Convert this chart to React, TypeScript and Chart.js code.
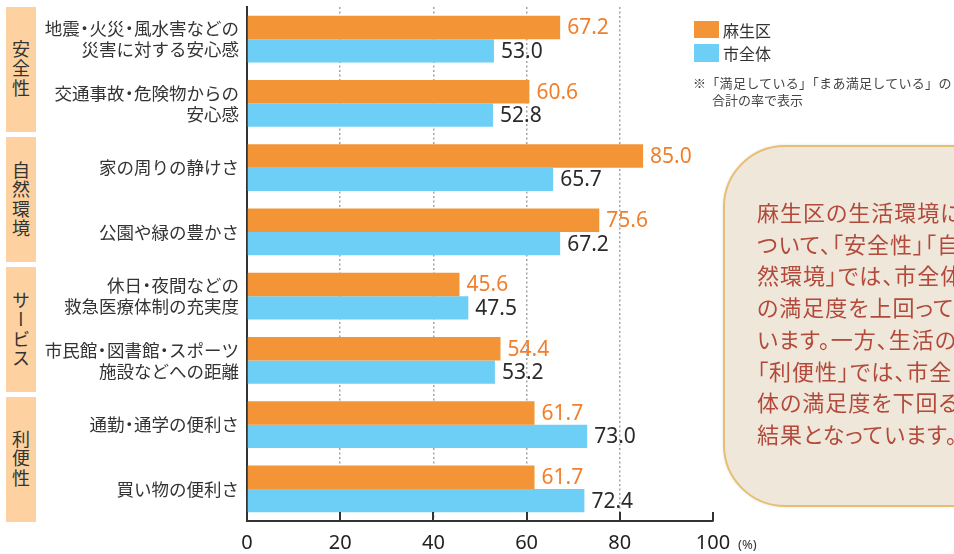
import React, { useEffect, useRef } from "react";
import { Chart, registerables } from "chart.js";

Chart.register(...registerables);

// ---- data ----
const categories: string[][] = [
  ["地震・火災・風水害などの", "災害に対する安心感"],
  ["交通事故・危険物からの", "安心感"],
  ["家の周りの静けさ"],
  ["公園や緑の豊かさ"],
  ["休日・夜間などの", "救急医療体制の充実度"],
  ["市民館・図書館・スポーツ", "施設などへの距離"],
  ["通勤・通学の便利さ"],
  ["買い物の便利さ"],
];
const asaoValues = [67.2, 60.6, 85.0, 75.6, 45.6, 54.4, 61.7, 61.7];
const cityValues = [53.0, 52.8, 65.7, 67.2, 47.5, 53.2, 73.0, 72.4];
const seriesNames = ["麻生区", "市全体"];
const xTicks = [0, 20, 40, 60, 80, 100];
const groupNames = ["安全性", "自然環境", "サービス", "利便性"];
const noteLines = ["※「満足している」「まあ満足している」の", "合計の率で表示"];
const commentLines = [
  "麻生区の生活環境に",
  "ついて、「安全性」「自",
  "然環境」では、市全体",
  "の満足度を上回って",
  "います。一方、生活の",
  "「利便性」では、市全",
  "体の満足度を下回る",
  "結果となっています。",
];

const ORANGE = "#F39536";
const BLUE = "#6DCFF6";
const ORANGE_TEXT = "#F07F2B";
const LABEL_SIZE = 17.5;
const LABEL_LINE = 21;

const valueLabels = {
  id: "valueLabels",
  afterDatasetsDraw(chart: any) {
    const ctx = chart.ctx;
    chart.data.datasets.forEach((ds: any, i: number) => {
      const meta = chart.getDatasetMeta(i);
      meta.data.forEach((bar: any, j: number) => {
        const v = ds.data[j] as number;
        ctx.save();
        ctx.font = '21px "Noto Sans", sans-serif';
        ctx.fillStyle = i === 0 ? ORANGE_TEXT : "#2a2a2a";
        ctx.textBaseline = "middle";
        ctx.textAlign = "left";
        ctx.fillText(v.toFixed(1), bar.x + 7, bar.y + 1);
        ctx.restore();
      });
    });
  },
};

// category labels with a narrow middle dot (as in the print original)
const categoryLabels = {
  id: "categoryLabels",
  afterDraw(chart: any) {
    const ctx = chart.ctx;
    const ys = chart.scales.y;
    const rightX = chart.chartArea.left - 8;
    ctx.save();
    ctx.font = `${LABEL_SIZE}px "Noto Sans CJK JP", sans-serif`;
    ctx.fillStyle = "#333";
    ctx.textBaseline = "middle";
    categories.forEach((lines, i) => {
      const cy = ys.getPixelForValue(i);
      const n = lines.length;
      lines.forEach((line, k) => {
        const y = cy + (k - (n - 1) / 2) * LABEL_LINE;
        const chars = Array.from(line);
        const adv = chars.map((c) =>
          c === "・" ? LABEL_SIZE * 0.55 : ctx.measureText(c).width
        );
        let x = rightX;
        for (let m = chars.length - 1; m >= 0; m--) {
          x -= adv[m];
          if (chars[m] === "・") {
            ctx.textAlign = "center";
            ctx.fillText("・", x + adv[m] / 2, y);
          } else {
            ctx.textAlign = "left";
            ctx.fillText(chars[m], x, y);
          }
        }
      });
    });
    ctx.restore();
  },
};

const innerTicks = {
  id: "innerTicks",
  afterDraw(chart: any) {
    const ctx = chart.ctx;
    const xs = chart.scales.x;
    const bottom = chart.chartArea.bottom;
    ctx.save();
    ctx.strokeStyle = "#333";
    ctx.lineWidth = 2;
    ctx.beginPath();
    xTicks.forEach((t) => {
      if (t === 0) return;
      const px = Math.round(xs.getPixelForValue(t));
      ctx.moveTo(px, bottom);
      ctx.lineTo(px, bottom - 9);
    });
    ctx.stroke();
    ctx.restore();
  },
};

export default function App() {
  const ref = useRef<HTMLCanvasElement>(null);

  useEffect(() => {
    const chart = new Chart(ref.current as HTMLCanvasElement, {
      type: "bar",
      data: {
        labels: categories.map((c) => c.join("")),
        datasets: [
          {
            label: seriesNames[0],
            data: asaoValues,
            backgroundColor: ORANGE,
            borderWidth: 0,
            barPercentage: 1,
            categoryPercentage: 0.73,
          },
          {
            label: seriesNames[1],
            data: cityValues,
            backgroundColor: BLUE,
            borderWidth: 0,
            barPercentage: 1,
            categoryPercentage: 0.73,
          },
        ],
      },
      options: {
        indexAxis: "y",
        responsive: false,
        animation: false,
        layout: { padding: { top: 7, right: 241, bottom: 0, left: 0 } },
        plugins: {
          legend: { display: false },
          tooltip: { enabled: false },
        },
        scales: {
          x: {
            type: "linear",
            min: 0,
            max: 100,
            afterFit: (s: any) => {
              s.height = 33;
            },
            afterBuildTicks: (s: any) => {
              s.ticks = xTicks.map((v) => ({ value: v }));
            },
            ticks: {
              color: "#222",
              padding: 10,
              font: { family: '"Noto Sans", sans-serif', size: 20 },
              maxRotation: 0,
            },
            grid: {
              drawTicks: false,
              lineWidth: 1.5,
              color: (c: any) =>
                c.tick && (c.tick.value === 0 || c.tick.value === 100)
                  ? "rgba(0,0,0,0)"
                  : "#a3a3a3",
            },
            border: { display: true, color: "#333", width: 2, dash: [2, 2.5] },
          },
          y: {
            type: "category",
            afterFit: (s: any) => {
              s.width = 247;
            },
            ticks: { display: false },
            grid: { display: false, drawTicks: false },
            border: { display: true, color: "#333", width: 2 },
          },
        },
      } as any,
      plugins: [valueLabels, categoryLabels, innerTicks],
    });
    return () => chart.destroy();
  }, []);

  const groupTops = [7, 137, 267, 397];

  return (
    <div
      style={{
        position: "absolute",
        left: 0,
        top: 0,
        width: 954,
        height: 554,
        overflow: "hidden",
        background: "#fff",
        fontFamily: '"Noto Sans CJK JP", sans-serif',
        color: "#333",
      }}
    >
      {groupNames.map((g, i) => (
        <div
          key={g}
          style={{
            position: "absolute",
            left: 6,
            top: groupTops[i],
            width: 30,
            height: 125,
            background: "#FDD2A0",
            display: "flex",
            alignItems: "center",
            justifyContent: "center",
          }}
        >
          <div
            style={{
              writingMode: "vertical-rl",
              fontSize: 18,
              lineHeight: "18px",
              letterSpacing: 1.5,
              color: "#333",
            }}
          >
            {g}
          </div>
        </div>
      ))}
      <canvas
        ref={ref}
        width={954}
        height={554}
        style={{ position: "absolute", left: 0, top: 0 }}
      />
      <div
        style={{
          position: "absolute",
          left: 738,
          top: 536,
          fontSize: 13,
          lineHeight: "16px",
          color: "#333",
          fontFamily: '"Noto Sans", sans-serif',
        }}
      >
        (%)
      </div>
      {/* legend */}
      <div style={{ position: "absolute", left: 694, top: 21, width: 25, height: 17, background: ORANGE }} />
      <div style={{ position: "absolute", left: 723, top: 19, fontSize: 16, lineHeight: "22px", whiteSpace: "nowrap" }}>
        {seriesNames[0]}
      </div>
      <div style={{ position: "absolute", left: 694, top: 44, width: 25, height: 18, background: BLUE }} />
      <div style={{ position: "absolute", left: 723, top: 42, fontSize: 16, lineHeight: "22px", whiteSpace: "nowrap" }}>
        {seriesNames[1]}
      </div>
      <div style={{ position: "absolute", left: 693, top: 74, fontSize: 13, lineHeight: "17px", whiteSpace: "nowrap", color: "#444", letterSpacing: 0.3 }}>
        {noteLines[0]}
      </div>
      <div style={{ position: "absolute", left: 712, top: 91, fontSize: 13, lineHeight: "17px", whiteSpace: "nowrap", color: "#444" }}>
        {noteLines[1]}
      </div>
      {/* comment box */}
      <div
        style={{
          position: "absolute",
          left: 723,
          top: 145,
          width: 300,
          height: 358,
          borderRadius: 62,
          background: "#EEE7DA",
          border: "2px solid #E8BE72",
          boxShadow: "0 0 3px rgba(0,0,0,0.12)",
        }}
      />
      <div
        style={{
          position: "absolute",
          left: 757,
          top: 196,
          fontSize: 22,
          lineHeight: "31.7px",
          letterSpacing: 1,
          color: "#B3493A",
          whiteSpace: "nowrap",
          fontFeatureSettings: '"palt"',
        }}
      >
        {commentLines.map((l, i) => (
          <div key={i}>{l}</div>
        ))}
      </div>
    </div>
  );
}
